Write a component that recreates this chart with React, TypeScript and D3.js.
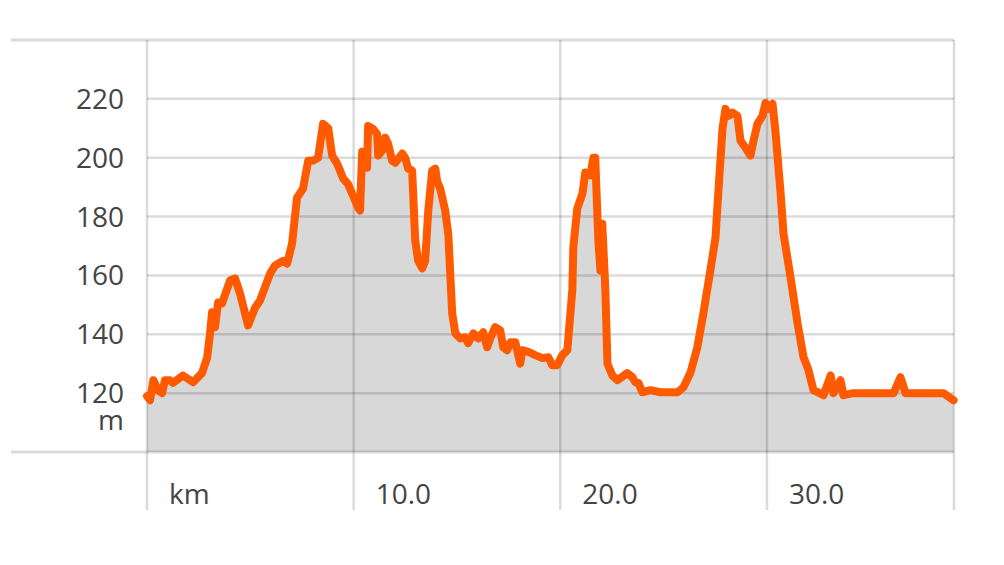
import * as d3 from "d3";

// distance along the route (km) and elevation (m)
const distKm = [
  0, 0.15, 0.31, 0.53, 0.73, 0.87, 1.11, 1.26, 1.74, 2.23, 2.66, 2.91, 3.05, 3.15, 3.29, 3.44, 3.63,
  4.02, 4.26, 4.5, 4.89, 5.23, 5.47, 5.96, 6.2, 6.59, 6.78, 7.02, 7.26, 7.55, 7.8, 8.04, 8.28,
  8.52, 8.77, 8.96, 9.2, 9.49, 9.73, 10.22, 10.31, 10.41, 10.56, 10.65, 10.7, 10.94, 11.14, 11.19,
  11.38, 11.53, 11.67, 11.86, 12.01, 12.35, 12.49, 12.64, 12.83, 12.98, 13.12, 13.32, 13.46, 13.61,
  13.8, 13.95, 14.04, 14.19, 14.43, 14.58, 14.77, 14.92, 15.16, 15.4, 15.54, 15.79, 16.03, 16.27,
  16.46, 16.61, 16.85, 17.09, 17.24, 17.43, 17.58, 17.82, 18.06, 18.16, 18.45, 18.79, 19.13, 19.42,
  19.61, 19.85, 20.1, 20.34, 20.58, 20.63, 20.82, 21.07, 21.21, 21.45, 21.6, 21.69, 21.84, 21.94,
  22.03, 22.18, 22.28, 22.52, 22.76, 23.24, 23.49, 23.63, 23.78, 23.97, 24.36, 24.84, 25.18, 25.67,
  25.96, 26.3, 26.63, 26.92, 27.26, 27.51, 27.65, 27.85, 27.99, 28.14, 28.33, 28.57, 28.72, 28.96,
  29.2, 29.35, 29.54, 29.78, 29.93, 30.07, 30.27, 30.41, 30.65, 30.8, 31.14, 31.48, 31.77, 32.01,
  32.25, 32.74, 33.08, 33.22, 33.56, 33.7, 34.19, 36.13, 36.46, 36.71, 38.55, 38.89, 39.03,
];
const elevM = [
  119, 117.6, 124.4, 121, 120, 124.4, 124.4, 123.5, 126, 123.7, 126.8, 132, 140.3, 147.5, 142.4, 150.8, 150.5,
  158.3, 159, 153.9, 143, 149, 151.5, 160.7, 163.4, 165, 164, 170.8, 186.4, 189.5, 199, 199, 200,
  211.5, 210, 200.7, 198, 193, 191, 183, 182, 202, 202, 196.6, 210.8, 209.8, 208, 200.7,
  202.4, 206.8, 204.7, 199, 198.3, 201.4, 200, 196.3, 195.6, 171.9, 165, 162.4, 165, 182,
  195.6, 196.3, 192, 189.5, 182, 174, 147, 140.3, 138.6, 139, 137, 140.3, 138.6, 140.7,
  135.6, 138.6, 142.4, 141.4, 135.6, 134.6, 137.3, 137.3, 130, 134.6, 134, 132.9, 131.9, 132.2,
  129.5, 129.5, 132.9, 134.6, 154.9, 169.5, 182.7, 187.8, 195, 194, 200, 200, 171.9, 161.7,
  177.6, 155, 130, 126, 124.4, 126.8, 125.4, 123.7, 123.5, 120.3, 121, 120.3, 120.3, 120.3,
  122, 127, 135.6, 147, 161.7, 172.9, 188.8, 210, 216.6, 214.2, 215.3, 214.2, 205.8, 203.4,
  200.7, 205.8, 211.5, 214.2, 218.6, 216.6, 218.3, 209, 188.8, 174.2, 159.3, 143.7, 132.2, 127.8,
  121, 119.3, 126, 120, 124.4, 119.3, 120, 120, 125.4, 120, 120, 118.3, 117.6,
];
const yTicks = [120, 140, 160, 180, 200, 220];
const xTicks = [0, 10, 20, 30];
const xTickLabels = ["km", "10.0", "20.0", "30.0"];
const yUnit = "m";

const W = 1004;
const H = 565;
const left = 147;
const right = 954;
const top = 40;
const bottom = 452;
const frameLeft = 11;
const tickBottom = 510;
const font = "'Open Sans', 'Noto Sans', sans-serif";

export default function App() {
  const pts = distKm.map((d, i) => ({ d, e: elevM[i] }));
  const x = d3.scaleLinear().domain([0, 39.05]).range([left, right]);
  const y = d3.scaleLinear().domain([100, 240]).range([bottom, top]);

  const area = d3.area<{ d: number; e: number }>()
    .x(p => x(p.d))
    .y0(bottom)
    .y1(p => y(p.e));
  const line = d3.line<{ d: number; e: number }>()
    .x(p => x(p.d))
    .y(p => y(p.e));

  const gridStroke = "rgba(0,0,0,0.14)";

  return (
    <svg width={W} height={H} style={{ position: "absolute", left: 0, top: 0 }}>
      <rect width={W} height={H} fill="#fff" />
      {/* elevation fill */}
      <path d={area(pts) || ""} fill="#d8d8d8" />

      {/* horizontal grid */}
      {yTicks.map(t => (
        <line key={"h" + t} x1={left} x2={right} y1={y(t)} y2={y(t)} stroke={gridStroke} strokeWidth={2.5} />
      ))}
      <line x1={frameLeft} x2={right} y1={top} y2={top} stroke={gridStroke} strokeWidth={3} />
      <line x1={frameLeft} x2={right} y1={bottom} y2={bottom} stroke={gridStroke} strokeWidth={3} />

      {/* vertical grid */}
      {xTicks.map(t => (
        <line key={"v" + t} x1={x(t)} x2={x(t)} y1={top} y2={tickBottom} stroke={gridStroke} strokeWidth={2.5} />
      ))}
      <line x1={right} x2={right} y1={top} y2={tickBottom} stroke={gridStroke} strokeWidth={2.5} />

      {/* profile */}
      <path d={line(pts) || ""} fill="none" stroke="#ff5a00" strokeWidth={8} strokeLinejoin="round" strokeLinecap="round" />

      {/* y labels */}
      {yTicks.map(t => (
        <text key={"yl" + t} x={124} y={y(t) + 10} textAnchor="end" fontFamily={font} fontSize={28} fill="#444">
          {t}
        </text>
      ))}
      <text x={124} y={430} textAnchor="end" fontFamily={font} fontSize={28} fill="#444">{yUnit}</text>

      {/* x labels */}
      {xTicks.map((t, i) => (
        <text key={"xl" + t} x={x(t) + 22} y={504} fontFamily={font} fontSize={28} fill="#444">
          {xTickLabels[i]}
        </text>
      ))}
    </svg>
  );
}
